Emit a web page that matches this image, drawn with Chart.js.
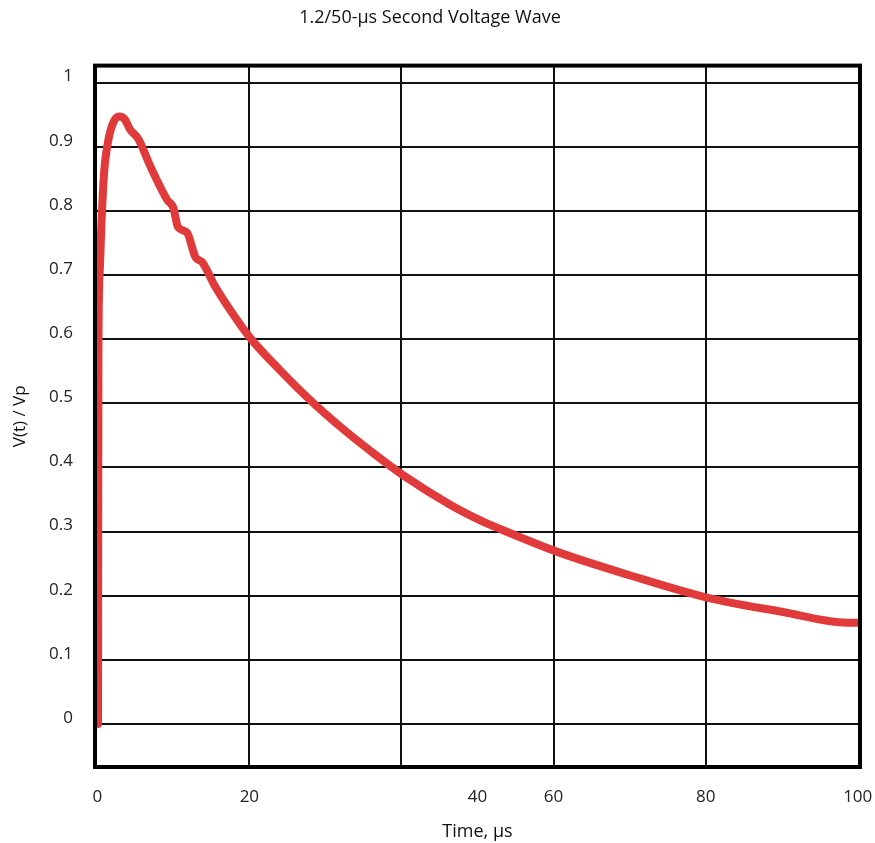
<!DOCTYPE html>
<html lang="en">
<head>
  <meta charset="UTF-8" />
  <title>1.2/50-µs Second Voltage Wave</title>
  <script src="https://cdn.jsdelivr.net/npm/chart.js"></script>
  <style>
    body { margin: 0; background: #fff; }
  </style>
</head>
<body>
  <canvas id="waveChart" width="875" height="843"></canvas>

  <script>
    // values
    const timeUs = [0.1, 0.15, 0.3, 0.55, 0.9, 1.45, 2.2, 2.9, 3.6, 4.3, 5.4, 7.0, 9.2, 10.0, 10.6, 11.8, 12.9, 13.8, 15.5, 17.5, 20.1, 24, 28, 32, 36, 40.2, 46.4, 50.3, 53, 60.6, 70, 79.9, 90, 98.7, 100];
    const voltageRatio = [0, 0.58, 0.70, 0.78, 0.86, 0.91, 0.94, 0.947, 0.943, 0.927, 0.912, 0.869, 0.817, 0.805, 0.775, 0.766, 0.728, 0.72, 0.682, 0.645, 0.602, 0.552, 0.505, 0.463, 0.425, 0.388, 0.342, 0.318, 0.304, 0.268, 0.232, 0.198, 0.175, 0.158, 0.158];

    // tick positions and labels as printed (the "40" label sits between grid lines)
    const xTickValues = [0, 20, 40, 50, 60, 80, 100];
    const xTickLabels = ["0", "20", "", "40", "60", "80", "100"];
    const xGridValues = [20, 40, 60, 80];
    const yTickValues = [0, 0.1, 0.2, 0.3, 0.4, 0.5, 0.6, 0.7, 0.8, 0.9, 1];
    const yTickLabels = ["0", "0.1", "0.2", "0.3", "0.4", "0.5", "0.6", "0.7", "0.8", "0.9", "1"];

    const points = timeUs.map((t, i) => ({ x: t, y: voltageRatio[i] }));

    // thick frame round the plot area
    const frame = {
      id: "frame",
      afterDatasetsDraw(chart) {
        const a = chart.chartArea;
        const ctx = chart.ctx;
        ctx.save();
        ctx.strokeStyle = "#000";
        ctx.lineWidth = 4;
        ctx.strokeRect(a.left, a.top, a.right - a.left, a.bottom - a.top);
        ctx.restore();
      }
    };

    const fontFamily = "'Open Sans', sans-serif";

    new Chart(document.getElementById("waveChart"), {
      type: "line",
      data: {
        datasets: [{
          data: points,
          borderColor: "#e03a3a",
          borderWidth: 8,
          borderCapStyle: "round",
          borderJoinStyle: "round",
          pointRadius: 0,
          cubicInterpolationMode: "monotone",
          fill: false
        }]
      },
      options: {
        responsive: false,
        animation: false,
        layout: { padding: { left: 0, right: 15, top: 0, bottom: 0 } },
        plugins: {
          legend: { display: false },
          tooltip: { enabled: false },
          title: {
            display: true,
            text: "1.2/50-µs Second Voltage Wave",
            color: "#111",
            font: { family: fontFamily, size: 18, weight: "normal" },
            padding: { top: 7, bottom: 37 }
          }
        },
        scales: {
          x: {
            type: "linear",
            min: -0.3,
            max: 100.3,
            afterBuildTicks: scale => { scale.ticks = xTickValues.map(v => ({ value: v })); },
            afterFit: scale => {
              scale.height = 76;
              scale.paddingLeft = 0;
              scale.paddingRight = 0;
            },
            border: { display: false },
            grid: {
              drawTicks: false,
              lineWidth: 2,
              color: ctx => xGridValues.includes(ctx.tick && ctx.tick.value) ? "#111" : "rgba(0,0,0,0)"
            },
            ticks: {
              autoSkip: false,
              maxRotation: 0,
              padding: 20,
              color: "#222",
              font: { family: fontFamily, size: 17 },
              callback: v => xTickLabels[xTickValues.indexOf(v)]
            },
            title: {
              display: true,
              text: "Time, µs",
              color: "#111",
              font: { family: fontFamily, size: 18 },
              padding: { top: 0, bottom: 0 }
            }
          },
          y: {
            type: "linear",
            min: -0.067,
            max: 1.0265,
            afterBuildTicks: scale => { scale.ticks = yTickValues.map(v => ({ value: v })); },
            afterFit: scale => {
              scale.width = 95;
              scale.paddingTop = 0;
              scale.paddingBottom = 0;
            },
            border: { display: false },
            grid: {
              drawTicks: false,
              lineWidth: 2,
              color: "#111"
            },
            ticks: {
              padding: 22,
              labelOffset: -6,
              color: "#222",
              font: { family: fontFamily, size: 17 },
              callback: v => yTickLabels[yTickValues.indexOf(v)]
            },
            title: {
              display: true,
              text: "V(t) / Vp",
              color: "#111",
              font: { family: fontFamily, size: 17 },
              padding: { top: 10, bottom: 0 }
            }
          }
        }
      },
      plugins: [frame]
    });
  </script>
</body>
</html>
